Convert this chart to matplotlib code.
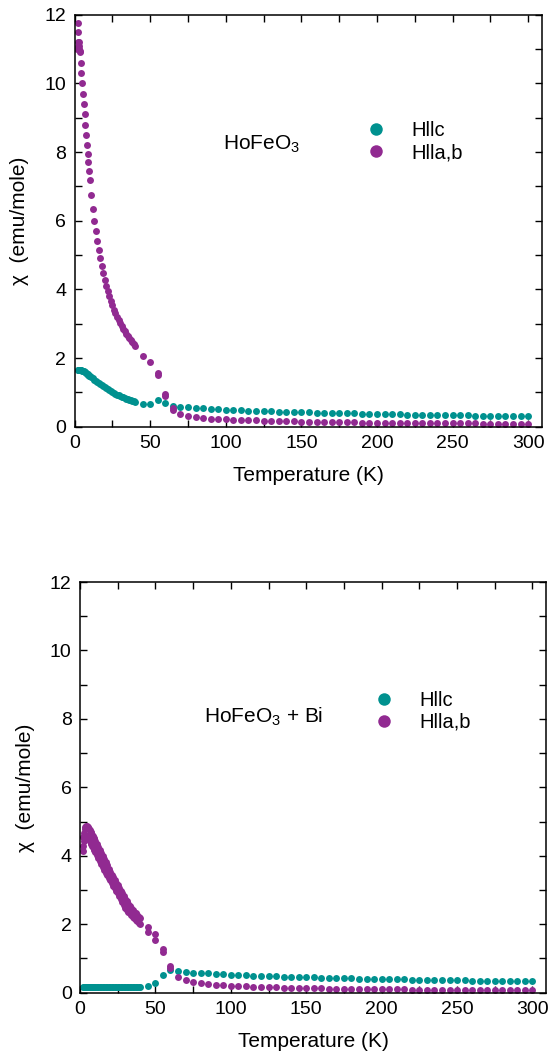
import numpy as np
import matplotlib
matplotlib.use("Agg")
import matplotlib.pyplot as plt

plt.rcParams['font.family'] = ['Liberation Sans', 'DejaVu Sans']

TEAL = '#00918f'
PURPLE = '#912a91'

# ---------------- HoFeO3 (top panel) ----------------
T_low = [2, 2.5, 3, 3.5, 4, 4.5, 5, 5.5, 6, 6.5, 7, 7.5, 8, 8.5, 9, 9.5, 10,
         11, 12, 13, 14, 15, 16, 17, 18, 19, 20, 21, 22, 23, 24, 25, 26, 27, 28, 29, 30,
         31, 32, 33, 34, 35, 36, 37, 38, 39, 40]
T_high = [45, 50, 55, 60, 65, 70, 75, 80, 85, 90, 95, 100, 105, 110, 115, 120, 125, 130,
          135, 140, 145, 150, 155, 160, 165, 170, 175, 180, 185, 190, 195, 200, 205, 210,
          215, 220, 225, 230, 235, 240, 245, 250, 255, 260, 265, 270, 275, 280, 285, 290,
          295, 300]

top_c_low = [1.66, 1.66, 1.66, 1.66, 1.65, 1.64, 1.63, 1.62, 1.61, 1.59, 1.58, 1.56, 1.54,
             1.53, 1.51, 1.49, 1.47, 1.44, 1.41, 1.37, 1.34, 1.31, 1.27, 1.24, 1.21, 1.18,
             1.15, 1.12, 1.09, 1.06, 1.03, 1.01, 0.98, 0.96, 0.93, 0.91, 0.89, 0.87, 0.85,
             0.83, 0.82, 0.80, 0.79, 0.77, 0.76, 0.75, 0.73]
top_c_high = [0.67, 0.67, 0.77, 0.68, 0.59, 0.57, 0.56, 0.55, 0.53, 0.52, 0.51, 0.50, 0.49,
              0.48, 0.47, 0.46, 0.455, 0.45, 0.44, 0.435, 0.43, 0.42, 0.415, 0.41, 0.405,
              0.40, 0.395, 0.39, 0.385, 0.38, 0.375, 0.37, 0.365, 0.36, 0.355, 0.35, 0.348,
              0.345, 0.342, 0.339, 0.336, 0.333, 0.330, 0.327, 0.324, 0.321, 0.318, 0.316,
              0.314, 0.312, 0.311, 0.310]

top_ab_low = [11.75, 11.5, 11.2, 10.9, 10.6, 10.3, 10.0, 9.7, 9.4, 9.1, 8.8, 8.5, 8.2, 7.95,
              7.7, 7.45, 7.2, 6.75, 6.35, 6.0, 5.7, 5.4, 5.15, 4.9, 4.68, 4.47, 4.28, 4.1,
              3.95, 3.8, 3.66, 3.53, 3.41, 3.3, 3.2, 3.1, 3.01, 2.93, 2.85, 2.78, 2.71, 2.64,
              2.58, 2.52, 2.46, 2.4, 2.34]
top_ab_high = [2.07, 1.87, 1.55, 0.94, 0.53, 0.38, 0.30, 0.27, 0.25, 0.235, 0.225, 0.215,
               0.205, 0.195, 0.19, 0.18, 0.175, 0.17, 0.165, 0.16, 0.155, 0.15, 0.145, 0.14,
               0.137, 0.133, 0.13, 0.127, 0.123, 0.12, 0.117, 0.115, 0.112, 0.11, 0.108,
               0.106, 0.104, 0.102, 0.10, 0.098, 0.097, 0.096, 0.095, 0.094, 0.093, 0.092,
               0.091, 0.090, 0.089, 0.088, 0.087, 0.086]
# second sweep points
top_ab_extra_T = [1.8, 2.0, 2.3, 2.6, 2.9, 3.2, 55, 60, 65]
top_ab_extra = [11.0, 11.1, 11.2, 11.1, 11.0, 10.95, 1.50, 0.89, 0.50]

# ---------------- HoFeO3 + Bi (bottom panel) ----------------
bot_c_low = [0.17, 0.17, 0.17, 0.17, 0.17, 0.17, 0.165, 0.165, 0.165, 0.165, 0.165, 0.165,
             0.165, 0.16, 0.16, 0.16, 0.16, 0.16, 0.16, 0.16, 0.16, 0.16, 0.16, 0.16, 0.16,
             0.16, 0.16, 0.16, 0.16, 0.16, 0.16, 0.16, 0.16, 0.16, 0.165, 0.165, 0.165,
             0.165, 0.165, 0.165, 0.165, 0.17, 0.17, 0.17, 0.17, 0.17, 0.17]
bot_c_high = [0.20, 0.29, 0.53, 0.65, 0.62, 0.60, 0.59, 0.58, 0.57, 0.55, 0.54, 0.53, 0.52,
              0.51, 0.50, 0.49, 0.485, 0.48, 0.47, 0.465, 0.46, 0.45, 0.445, 0.44, 0.435,
              0.43, 0.425, 0.42, 0.415, 0.41, 0.405, 0.40, 0.395, 0.39, 0.387, 0.383, 0.38,
              0.375, 0.372, 0.368, 0.364, 0.36, 0.357, 0.353, 0.35, 0.347, 0.344, 0.341,
              0.338, 0.335, 0.332, 0.33]

T_bi_a = [2, 2.5, 3, 3.5, 4, 4.5, 5, 5.5, 6, 6.5, 7, 7.5, 8, 8.5, 9, 9.5, 10,
          11, 12, 13, 14, 15, 16, 17, 18, 19, 20, 21, 22, 23, 24, 25, 26, 27, 28, 29, 30,
          31, 32, 33, 34, 35, 36, 37, 38, 39, 40]
bot_ab_a = [4.55, 4.68, 4.78, 4.84, 4.87, 4.87, 4.85, 4.82, 4.79, 4.75, 4.71, 4.67, 4.62,
            4.58, 4.53, 4.49, 4.44, 4.35, 4.26, 4.17, 4.08, 3.99, 3.90, 3.81, 3.72, 3.62,
            3.53, 3.45, 3.38, 3.30, 3.22, 3.14, 3.06, 2.98, 2.90, 2.82, 2.74, 2.67, 2.60,
            2.53, 2.47, 2.42, 2.37, 2.32, 2.27, 2.22, 2.17]
T_bi_b = [1.8, 2.2, 2.6, 3, 3.5, 4, 4.5, 5, 5.5, 6, 6.5, 7, 7.5, 8, 8.5, 9, 9.5, 10,
          11, 12, 13, 14, 15, 16, 17, 18, 19, 20, 21, 22, 23, 24, 25, 26, 27, 28, 29, 30,
          31, 32, 33, 34, 35, 36, 37, 38, 39, 40]
bot_ab_b = [4.15, 4.30, 4.42, 4.50, 4.56, 4.59, 4.58, 4.56, 4.52, 4.48, 4.43, 4.38, 4.34,
            4.29, 4.25, 4.20, 4.16, 4.11, 4.02, 3.93, 3.84, 3.75, 3.67, 3.59, 3.51, 3.43,
            3.35, 3.28, 3.20, 3.12, 3.05, 2.98, 2.90, 2.82, 2.74, 2.65, 2.57, 2.48, 2.42,
            2.37, 2.32, 2.27, 2.22, 2.18, 2.13, 2.09, 2.05, 2.01]
bot_ab_high = [1.92, 1.73, 1.29, 0.77, 0.47, 0.36, 0.30, 0.27, 0.25, 0.23, 0.22, 0.205,
               0.195, 0.185, 0.175, 0.17, 0.163, 0.157, 0.15, 0.145, 0.14, 0.135, 0.13,
               0.126, 0.122, 0.118, 0.115, 0.112, 0.109, 0.106, 0.103, 0.10, 0.098, 0.096,
               0.094, 0.092, 0.09, 0.088, 0.086, 0.085, 0.083, 0.082, 0.08, 0.079, 0.078,
               0.077, 0.076, 0.075, 0.074, 0.073, 0.072, 0.071]
bot_ab_extra_T = [45, 50, 55, 60]
bot_ab_extra = [1.78, 1.53, 1.19, 0.72]

MS = 5.0


def style_axes(ax):
    ax.set_xlim(0, 309)
    ax.set_ylim(0, 12)
    ax.set_xticks(np.arange(0, 301, 50))
    ax.set_xticks(np.arange(0, 301, 25), minor=True)
    ax.set_yticks(np.arange(0, 13, 2))
    ax.set_yticks(np.arange(0, 13, 1), minor=True)
    ax.tick_params(which='both', direction='in', top=True, right=True,
                   length=5, width=1, labelsize=14, pad=6)
    for s in ax.spines.values():
        s.set_linewidth(1.1)
    ax.set_xlabel('Temperature (K)', fontsize=15, labelpad=10)
    ax.set_ylabel('χ  (emu/mole)', fontsize=15, labelpad=11)


def add_legend(ax, xm, yc):
    fs = 14.5
    axw = ax.get_position().width * ax.figure.get_figwidth() * ax.figure.dpi
    hl = 1.0
    x0 = xm - 0.5 * hl * fs * 100 / 72 / axw
    ax.legend(loc='center left', bbox_to_anchor=(x0, yc), frameon=False, fontsize=fs,
              borderpad=0, borderaxespad=0, handlelength=hl, handletextpad=1.25,
              labelspacing=0.15, markerscale=1.8)


fig = plt.figure(figsize=(5.48, 10.59), dpi=100)
ax1 = fig.add_axes([0.1363, 0.5971, 0.8522, 0.3890])
ax2 = fig.add_axes([0.1460, 0.0626, 0.8504, 0.3878])

# top panel
ax1.plot(T_low + T_high, top_c_low + top_c_high, 'o', color=TEAL, ms=MS, mew=0, label='Hllc')
ax1.plot(T_low + T_high, top_ab_low + top_ab_high, 'o', color=PURPLE, ms=MS, mew=0, label='Hlla,b')
ax1.plot(top_ab_extra_T, top_ab_extra, 'o', color=PURPLE, ms=MS, mew=0)
style_axes(ax1)
ax1.text(0.317, 0.672, 'HoFeO$_\\mathregular{3}$', transform=ax1.transAxes,
         fontsize=15, va='baseline', ha='left')
add_legend(ax1, 0.6445, 0.6915)

# bottom panel
ax2.plot(T_low + T_high, bot_c_low + bot_c_high, 'o', color=TEAL, ms=MS, mew=0, label='Hllc')
ax2.plot(T_bi_a + T_high, bot_ab_a + bot_ab_high, 'o', color=PURPLE, ms=MS, mew=0, label='Hlla,b')
ax2.plot(T_bi_b + bot_ab_extra_T, bot_ab_b + bot_ab_extra, 'o', color=PURPLE, ms=MS, mew=0)
style_axes(ax2)
ax2.text(0.266, 0.657, 'HoFeO$_\\mathregular{3}$ + Bi', transform=ax2.transAxes,
         fontsize=15, va='baseline', ha='left')
add_legend(ax2, 0.653, 0.6855)

fig.savefig('out.png', dpi=100)
